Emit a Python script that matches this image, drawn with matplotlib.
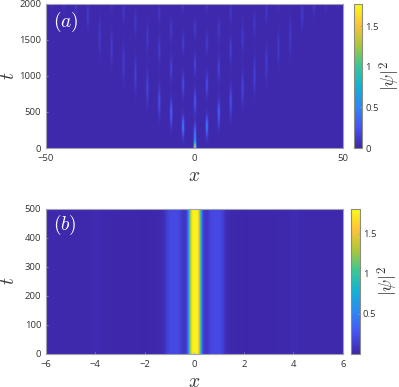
import numpy as np
import matplotlib
matplotlib.use("Agg")
import matplotlib.pyplot as plt
from matplotlib.colors import LinearSegmentedColormap

plt.rcParams['font.family'] = ['Open Sans', 'DejaVu Sans']
plt.rcParams['mathtext.fontset'] = 'cm'

parula_colors = [(0.2422,0.1504,0.6603),(0.2810,0.3228,0.9579),(0.1786,0.5289,0.9682),
                 (0.0689,0.6948,0.8394),(0.2161,0.7843,0.5923),(0.6720,0.7793,0.2227),
                 (0.9970,0.7659,0.2199),(0.9769,0.9839,0.0805)]
parula = LinearSegmentedColormap.from_list('parula', parula_colors, N=256)

# panel (a): streak x position, centre time, half length (t), peak |psi|^2
streak_x = [0, 0, 0, 0, 0,
            -4, -4, -4, -4, 4, 4, 4, 4,
            -8, -8, -8, 8, 8, 8,
            -12, -12, -12, 12, 12, 12,
            -16, -16, 16, 16,
            -20, -20, 20, 20,
            -24, -24, 24, 24,
            -28, -28, 28, 28,
            -32, 32, -36, 36, -40, 40, -44, 44, -48, 48]
streak_t = [0, 170, 640, 1150, 1650,
            295, 870, 1450, 2000, 295, 870, 1450, 2000,
            480, 1100, 1630, 480, 1100, 1630,
            640, 1355, 1860, 640, 1355, 1860,
            825, 1515, 825, 1515,
            1010, 1720, 1010, 1720,
            1170, 1885, 1170, 1885,
            1380, 2000, 1380, 2000,
            1540, 1540, 1840, 1840, 1950, 1950, 2000, 2000, 2000, 2000]
streak_len = [90, 160, 170, 150, 140,
              150, 170, 150, 120, 150, 170, 150, 120,
              190, 170, 160, 190, 170, 160,
              220, 190, 130, 220, 190, 130,
              240, 210, 240, 210,
              260, 170, 260, 170,
              260, 150, 260, 150,
              240, 120, 240, 120,
              260, 260, 190, 190, 140, 140, 120, 120, 100, 100]
streak_peak = [1.45, 0.50, 0.27, 0.17, 0.11,
               0.48, 0.22, 0.13, 0.10, 0.48, 0.22, 0.13, 0.10,
               0.34, 0.17, 0.11, 0.34, 0.17, 0.11,
               0.24, 0.14, 0.10, 0.24, 0.14, 0.10,
               0.18, 0.11, 0.18, 0.11,
               0.15, 0.10, 0.15, 0.10,
               0.13, 0.10, 0.13, 0.10,
               0.12, 0.08, 0.12, 0.08,
               0.11, 0.11, 0.12, 0.12, 0.09, 0.09, 0.07, 0.07, 0.05, 0.05]
a_background = 0.02

# panel (b): time-independent profile
prof_x = [-6, -4.4, -4.0, -3.6, -2, -1.5, -1.25, -1.12, -1.0, -0.65, -0.5, -0.35, -0.3, -0.25, -0.2, -0.12, 0, 0.12, 0.2, 0.25, 0.3, 0.35, 0.5, 0.65, 1.0, 1.12, 1.25, 1.5, 2, 3.6, 4.0, 4.4, 6]
prof_y = [0.02, 0.02, 0.04, 0.02, 0.01, 0.02, 0.05, 0.15, 0.21, 0.20, 0.10, 0.12, 0.30, 0.70, 1.20, 1.72, 1.80, 1.72, 1.20, 0.70, 0.30, 0.12, 0.10, 0.20, 0.21, 0.15, 0.05, 0.02, 0.01, 0.02, 0.04, 0.02, 0.02]

W, H = 399, 387
def box(x0, y0, x1, y1):
    return [x0/W, 1-y1/H, (x1-x0)/W, (y1-y0)/H]

fig = plt.figure(figsize=(W/100, H/100), dpi=100)
TXT = '#333333'
EDGE = '#a0a0b4'

def style(ax, pad=4.5):
    for s in ax.spines.values():
        s.set_color(EDGE); s.set_linewidth(0.8)
    ax.tick_params(length=1.5, width=0.5, color=EDGE, labelcolor=TXT, labelsize=6.8, pad=pad, direction='in')

# (a)
ax1 = fig.add_axes(box(45.5, 3.5, 343, 148))
xg = np.linspace(-50, 50, 801)
tg = np.linspace(0, 2000, 301)
X, T = np.meshgrid(xg, tg)
Z = np.full(X.shape, float(a_background))
for sx, st, sl, sp in zip(streak_x, streak_t, streak_len, streak_peak):
    Z += sp*np.exp(-((X-sx)/0.36)**2 - ((T-st)/(sl*0.9))**2)
im1 = ax1.imshow(Z, extent=[-50, 50, 0, 2000], origin='lower', aspect='auto', cmap=parula,
                 vmin=0, vmax=1.78, interpolation='bilinear')
ax1.set_xticks([-50, 0, 50]); ax1.set_yticks([0, 500, 1000, 1500, 2000])
style(ax1)
ax1.tick_params(axis='y', pad=3)
ax1.set_xlabel(r'$x$', fontsize=14, color=TXT, labelpad=3)
ax1.set_ylabel(r'$t$', fontsize=14, color=TXT, labelpad=1)
ax1.text(0.025, 0.875, r'$(a)$', transform=ax1.transAxes, color='white', fontsize=14, va='center')
cax1 = fig.add_axes(box(353.5, 3.5, 362, 148))
cb1 = fig.colorbar(im1, cax=cax1, ticks=[0, 0.5, 1, 1.5])
cb1.ax.set_yticklabels(['0', '0.5', '1', '1.5'])
style(cax1, pad=2.5); cb1.outline.set_edgecolor('#8c8c80'); cb1.outline.set_linewidth(0.8)
cb1.set_label(r'$|\psi|^2$', fontsize=13, color=TXT, labelpad=-1)

# (b)
ax2 = fig.add_axes(box(45.5, 208.7, 343, 353.7))
xb = np.linspace(-6, 6, 1201)
Zb = np.tile(np.interp(xb, prof_x, prof_y), (2, 1))
im2 = ax2.imshow(Zb, extent=[-6, 6, 0, 500], origin='lower', aspect='auto', cmap=parula,
                 vmin=0.004, vmax=1.815, interpolation='bilinear')
ax2.set_xticks([-6, -4, -2, 0, 2, 4, 6]); ax2.set_yticks([0, 100, 200, 300, 400, 500])
style(ax2)
ax2.tick_params(axis='y', pad=3)
ax2.set_xlabel(r'$x$', fontsize=14, color=TXT, labelpad=3)
ax2.set_ylabel(r'$t$', fontsize=14, color=TXT, labelpad=5)
ax2.text(0.025, 0.885, r'$(b)$', transform=ax2.transAxes, color='white', fontsize=14, va='center')
cax2 = fig.add_axes(box(351, 208.7, 359.5, 353.7))
cb2 = fig.colorbar(im2, cax=cax2, ticks=[0.5, 1, 1.5])
cb2.ax.set_yticklabels(['0.5', '1', '1.5'])
style(cax2, pad=2.5); cb2.outline.set_edgecolor('#8c8c80'); cb2.outline.set_linewidth(0.8)
cb2.set_label(r'$|\psi|^2$', fontsize=13, color=TXT, labelpad=-1)

fig.savefig('out.png', dpi=100)
